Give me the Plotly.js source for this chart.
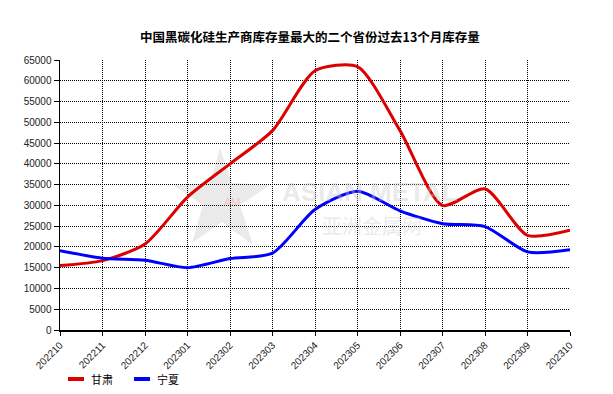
<!DOCTYPE html>
<html>
<head>
<meta charset="utf-8">
<script src="https://cdn.plot.ly/plotly-3.0.1.min.js"></script>
<style>html,body{margin:0;padding:0;background:#fff;}#chart{width:613px;height:394px;}</style>
</head>
<body>
<div id="chart"></div>
<script>
const chartTitle = "中国黑碳化硅生产商库存量最大的二个省份过去13个月库存量";
const months = ["202210","202211","202212","202301","202302","202303","202304","202305","202306","202307","202308","202309","202310"];
const seriesNames = ["甘肃", "宁夏"];
const gansu = [15500, 16700, 20700, 32000, 40000, 48000, 62400, 63400, 48000, 30000, 34000, 22800, 24000];
const ningxia = [19100, 17300, 16800, 15000, 17200, 18500, 29000, 33400, 28700, 25600, 24900, 18800, 19300];
const yTicks = [0,5000,10000,15000,20000,25000,30000,35000,40000,45000,50000,55000,60000,65000];

const W = 613, H = 394, L = 60, R = 43, T = 60, B = 64;
const pw = W - L - R, ph = H - T - B;
const px = x => (x - L) / pw;
const py = y => (H - B - y) / ph;

const red = '#dd0000', blue = '#0000ff';

const traces = [
  {x: months, y: gansu, name: seriesNames[0], type: 'scatter', mode: 'lines',
   line: {color: red, width: 3, shape: 'spline', smoothing: 0.7}},
  {x: months, y: ningxia, name: seriesNames[1], type: 'scatter', mode: 'lines',
   line: {color: blue, width: 3, shape: 'spline', smoothing: 0.7}}
];

// watermark star (decorative)
const starPts = [[220,148],[232,183],[270,185],[240,205],[253,245],[222,222],[192,243],[203,205],[173,185],[210,183]];
let starPath = 'M ' + starPts.map(p => px(p[0]) + ',' + py(p[1])).join(' L ') + ' Z';

const shapes = [
  {type: 'path', xref: 'paper', yref: 'paper', path: starPath, fillcolor: 'rgba(180,180,180,0.28)', line: {width: 0}, layer: 'below'},
  {type: 'line', xref: 'paper', yref: 'paper', x0: px(68), x1: px(84), y0: py(379), y1: py(379), line: {color: red, width: 4}},
  {type: 'line', xref: 'paper', yref: 'paper', x0: px(134), x1: px(150), y0: py(379), y1: py(379), line: {color: blue, width: 4}}
];

const annotations = [
  {xref: 'paper', yref: 'paper', x: px(370), y: py(192), text: '<b>ASIAN METAL</b>', showarrow: false,
   font: {family: 'Liberation Sans, Arial', size: 26, color: 'rgba(200,200,200,0.4)'}},
  {xref: 'paper', yref: 'paper', x: px(372), y: py(225), text: '亚洲金属网', showarrow: false,
   font: {family: 'Noto Sans CJK SC', size: 20, color: 'rgba(200,200,200,0.4)'}},
  {xref: 'paper', yref: 'paper', x: px(222), y: py(202), text: 'AM', showarrow: false,
   font: {family: 'Liberation Sans, Arial', size: 11, color: 'rgba(255,120,120,0.35)'}},
  {xref: 'paper', yref: 'paper', x: px(89), y: py(379), xanchor: 'left', yanchor: 'middle', text: seriesNames[0], showarrow: false,
   font: {family: 'Noto Sans CJK SC', size: 11, color: '#000'}},
  {xref: 'paper', yref: 'paper', x: px(155), y: py(379), xanchor: 'left', yanchor: 'middle', text: seriesNames[1], showarrow: false,
   font: {family: 'Noto Sans CJK SC', size: 11, color: '#000'}}
];

const layout = {
  width: W, height: H,
  margin: {l: L, r: R, t: T, b: B, pad: 0},
  paper_bgcolor: '#fff', plot_bgcolor: '#fff',
  showlegend: false,
  title: {text: '<b>' + chartTitle + '</b>', x: 310/W, xanchor: 'center', y: 1 - 38/H, yanchor: 'middle',
          font: {family: 'Noto Sans CJK SC', size: 12.5, color: '#000'}},
  xaxis: {type: 'category', categoryorder: 'array', categoryarray: months,
          range: [0, months.length - 1], tickangle: -45,
          showgrid: true, gridcolor: '#000', griddash: '1px,1px', gridwidth: 1,
          showline: true, linecolor: '#000', linewidth: 1.5,
          ticks: 'outside', ticklen: 4, tickcolor: '#000', tickwidth: 1,
          tickfont: {family: 'Liberation Sans, Arial', size: 10, color: '#222'}, zeroline: false},
  yaxis: {range: [0, 65000], tickvals: yTicks, ticktext: yTicks.map(String),
          showgrid: true, gridcolor: '#000', griddash: '1px,1px', gridwidth: 1,
          showline: true, linecolor: '#000', linewidth: 1.5,
          ticks: 'outside', ticklen: 5, tickcolor: '#000', tickwidth: 1,
          tickfont: {family: 'Liberation Sans, Arial', size: 10, color: '#222'}, zeroline: false},
  shapes: shapes,
  annotations: annotations
};

Plotly.newPlot('chart', traces, layout, {staticPlot: true, displayModeBar: false});
</script>
</body>
</html>
